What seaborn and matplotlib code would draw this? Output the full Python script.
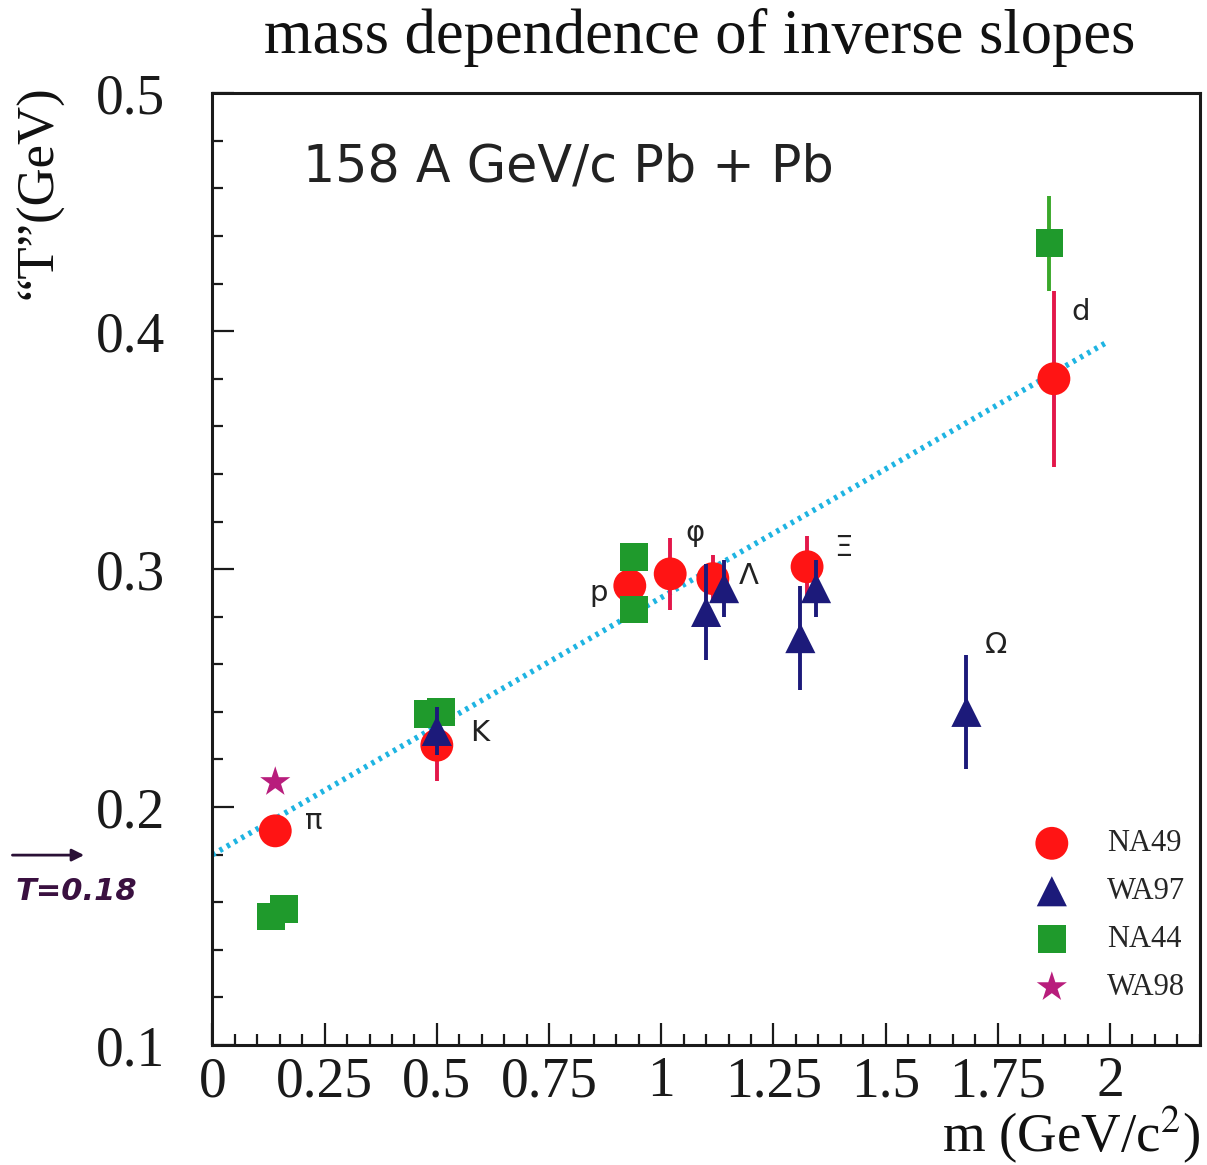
import numpy as np
import pandas as pd
import matplotlib
matplotlib.use("Agg")
import matplotlib.pyplot as plt
import seaborn as sns
from matplotlib.ticker import MultipleLocator, FuncFormatter

# ---------------- data ----------------
na49_m = [0.14, 0.50, 0.93, 1.02, 1.115, 1.325, 1.875]
na49_T = [0.190, 0.226, 0.293, 0.298, 0.296, 0.301, 0.380]
na49_err = [0.0, 0.015, 0.013, 0.015, 0.010, 0.013, 0.037]

wa97_m = [0.50, 1.10, 1.14, 1.31, 1.345, 1.68]
wa97_T = [0.232, 0.282, 0.292, 0.271, 0.292, 0.240]
wa97_err = [0.010, 0.020, 0.012, 0.022, 0.012, 0.024]

na44_m = [0.13, 0.16, 0.48, 0.51, 0.94, 0.94, 1.865]
na44_T = [0.154, 0.157, 0.239, 0.240, 0.305, 0.283, 0.437]
na44_err = [0.004, 0.004, 0.004, 0.004, 0.005, 0.005, 0.020]

wa98_m = [0.14]
wa98_T = [0.2105]

fit_m = [0.0, 1.99]
fit_T = [0.18, 0.395]

particle_labels = ["π", "K", "p", "φ", "Λ", "Ξ", "Ω", "d"]
label_m = [0.225, 0.595, 0.86, 1.075, 1.195, 1.405, 1.745, 1.935]
label_T = [0.194, 0.231, 0.290, 0.315, 0.297, 0.309, 0.268, 0.408]

x_ticks = [0, 0.25, 0.5, 0.75, 1, 1.25, 1.5, 1.75, 2]
y_ticks = [0.1, 0.2, 0.3, 0.4, 0.5]

# ---------------- style ----------------
sns.set_style("ticks")
plt.rcParams["font.family"] = ["Liberation Serif", "DejaVu Serif"]
plt.rcParams["mathtext.fontset"] = "stix"

RED = "#ff1414"
RED_BAR = "#e3174a"
NAVY = "#1c1a7a"
GREEN = "#1f9a2c"
GREEN_BAR = "#3aa82a"
MAGENTA = "#b81d7c"
CYAN = "#1eb4e2"

fig = plt.figure(figsize=(12.07, 11.65), dpi=100)
ax = fig.add_axes([0.176, 0.103, 0.818, 0.817])

# fit line
fit_df = pd.DataFrame({"m": fit_m, "T": fit_T})
sns.lineplot(data=fit_df, x="m", y="T", ax=ax, color=CYAN, lw=4.0,
             linestyle=(0, (0.6, 0.9)), zorder=2)

# error bars
ax.errorbar(na49_m, na49_T, yerr=na49_err, fmt="none", ecolor=RED_BAR,
            elinewidth=2.8, capsize=0, zorder=3)
ax.errorbar(na44_m, na44_T, yerr=na44_err, fmt="none", ecolor=GREEN_BAR,
            elinewidth=2.8, capsize=0, zorder=3)
ax.errorbar(wa97_m, wa97_T, yerr=wa97_err, fmt="none", ecolor=NAVY,
            elinewidth=2.8, capsize=0, zorder=5)

# markers
sns.scatterplot(x=na49_m, y=na49_T, ax=ax, marker="o", s=560, color=RED,
                edgecolor="none", label="NA49", zorder=4)
sns.scatterplot(x=wa97_m, y=wa97_T, ax=ax, marker="^", s=470, color=NAVY,
                edgecolor="none", label="WA97", zorder=6)
sns.scatterplot(x=na44_m, y=na44_T, ax=ax, marker="s", s=400, color=GREEN,
                edgecolor="none", label="NA44", zorder=4)
sns.scatterplot(x=wa98_m, y=wa98_T, ax=ax, marker="*", s=520, color=MAGENTA,
                edgecolor="none", label="WA98", zorder=6)

# particle labels
for lab, mx, ty in zip(particle_labels, label_m, label_T):
    ax.text(mx, ty, lab, fontsize=21, ha="center", va="center",
            family=["DejaVu Sans"], color="#222222")

# axes
ax.set_xlim(0, 2.2)
ax.set_ylim(0.1, 0.5)
ax.set_xticks(x_ticks)
ax.set_yticks(y_ticks)
ax.xaxis.set_minor_locator(MultipleLocator(0.05))
ax.yaxis.set_minor_locator(MultipleLocator(0.02))
ax.xaxis.set_major_formatter(FuncFormatter(lambda v, p: f"{v:g}"))
ax.yaxis.set_major_formatter(FuncFormatter(lambda v, p: f"{v:.1f}"))
ax.tick_params(axis="both", which="both", direction="in", top=False, right=False,
               colors="#1a1a1a", width=1.6)
ax.tick_params(axis="both", which="major", length=16, labelsize=40)
ax.tick_params(axis="both", which="minor", length=8)
ax.tick_params(axis="y", which="major", pad=34)
ax.tick_params(axis="x", which="major", pad=8)
for sp in ax.spines.values():
    sp.set_visible(True)
    sp.set_linewidth(2.2)
    sp.set_color("#1a1a1a")
ax.set_xlabel("")
ax.set_ylabel("")

# legend
leg = ax.legend(loc="lower right", bbox_to_anchor=(0.985, 0.045), frameon=False,
                fontsize=22, borderpad=0, borderaxespad=0, handlelength=1.0,
                handletextpad=1.3, labelspacing=0.62, markerscale=1.0)

# texts
ax.text(0.092, 0.922, "158 A GeV/c Pb + Pb", transform=ax.transAxes,
        fontsize=36.5, family=["DejaVu Sans"], ha="left", va="center", color="#222222")
fig.text(0.58, 0.968, "mass dependence of inverse slopes", fontsize=45,
         ha="center", va="center", color="#111111")
fig.text(0.033, 0.835, "\u201cT\u201d(GeV)", rotation=90, fontsize=38,
         ha="center", va="center", color="#111111")
fig.text(0.994, 0.026, "m (GeV/c$^2$)", fontsize=39.5, ha="right", va="center",
         color="#111111")

# arrow + handwritten note
ax.annotate("", xy=(0.072, 0.266), xytext=(0.008, 0.266), xycoords="figure fraction",
            textcoords="figure fraction",
            arrowprops=dict(arrowstyle="-|>", color="#2a1036", lw=2, mutation_scale=18))
fig.text(0.063, 0.235, "T=0.18", fontsize=22, style="italic", fontweight="bold",
         family=["DejaVu Sans"], ha="center", va="center", color="#3a1040")

fig.savefig("out.png", dpi=100)
